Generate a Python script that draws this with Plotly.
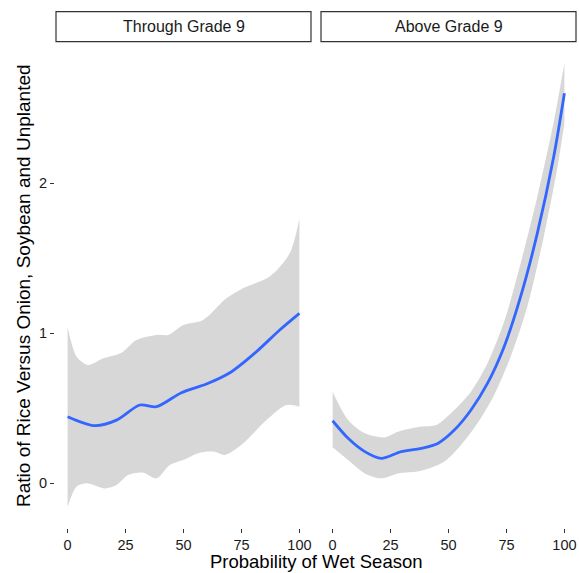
import plotly.graph_objects as go

# Facet labels
panels = ["Through Grade 9", "Above Grade 9"]

# Through Grade 9: fitted curve and confidence band
tg_fit_x = [0, 11.8, 21.1, 31.2, 38.4, 49.1, 59.9, 70, 81.5, 91.5, 100]
tg_fit_y = [0.442, 0.382, 0.419, 0.520, 0.509, 0.602, 0.660, 0.735, 0.876, 1.02, 1.131]
tg_hi_x = [0, 3.9, 8.9, 15.4, 23.3, 29.7, 38.4, 43.4, 49.9, 58.5, 68.5, 75.7, 87.2, 95.8, 100]
tg_hi_y = [1.042, 0.842, 0.787, 0.831, 0.869, 0.953, 0.987, 0.987, 1.053, 1.087, 1.231, 1.298, 1.376, 1.531, 1.764]
tg_lo_x = [0, 3.9, 8.2, 16.1, 21.1, 26.1, 32.6, 38.4, 44.1, 49.9, 57, 63.5, 67.8, 75.7, 85.8, 94.4, 100]
tg_lo_y = [-0.158, -0.024, -0.002, -0.036, -0.013, 0.053, 0.069, 0.031, 0.120, 0.153, 0.202, 0.209, 0.187, 0.264, 0.42, 0.52, 0.509]

# Above Grade 9: fitted curve and confidence band
ag_fit_x = [0, 6.7, 13.9, 21, 29.6, 38.2, 45.4, 52.5, 59.7, 66.8, 74, 81.1, 88.3, 95.4, 100]
ag_fit_y = [0.415, 0.298, 0.209, 0.164, 0.209, 0.231, 0.264, 0.353, 0.487, 0.664, 0.909, 1.242, 1.664, 2.176, 2.598]
ag_hi_x = [0, 6.7, 13.9, 22.4, 28.2, 38.2, 44.7, 52.5, 59.7, 66.8, 74, 81.1, 88.3, 95.4, 100]
ag_hi_y = [0.609, 0.420, 0.331, 0.304, 0.342, 0.376, 0.387, 0.487, 0.609, 0.798, 1.076, 1.464, 1.909, 2.409, 2.798]
ag_lo_x = [0, 6.7, 13.9, 21, 28.2, 38.2, 48.1, 55.4, 62.5, 69.7, 76.8, 84, 91.1, 96.8, 100]
ag_lo_y = [0.238, 0.153, 0.064, 0.031, 0.064, 0.082, 0.142, 0.253, 0.398, 0.587, 0.842, 1.176, 1.642, 2.087, 2.398]

x_ticks = [0, 25, 50, 75, 100]
y_ticks = [0, 1, 2]

W, H = 579, 573
FONT = "Liberation Sans, Arial, Helvetica, sans-serif"
BAND = "#D7D7D7"
LINE = "#3366FF"
TEXT = "#1a1a1a"

# panel geometry in pixels
left_dom = [56 / W, 311 / W]
right_dom = [321 / W, 576 / W]
y_dom = [(H - 528) / H, (H - 42) / H]
y_range = [-(528 - 483) / 150, (483 - 42) / 150]

fig = go.Figure()

series = [
    ("x", "y", tg_fit_x, tg_fit_y, tg_hi_x, tg_hi_y, tg_lo_x, tg_lo_y),
    ("x2", "y2", ag_fit_x, ag_fit_y, ag_hi_x, ag_hi_y, ag_lo_x, ag_lo_y),
]
for xa, ya, fx, fy, hx, hy, lx, ly in series:
    fig.add_trace(go.Scatter(x=lx, y=ly, xaxis=xa, yaxis=ya, mode="lines",
                             line=dict(width=0, color=BAND, shape="spline", smoothing=0.8),
                             showlegend=False, hoverinfo="skip"))
    fig.add_trace(go.Scatter(x=hx, y=hy, xaxis=xa, yaxis=ya, mode="lines",
                             fill="tonexty", fillcolor=BAND,
                             line=dict(width=0, color=BAND, shape="spline", smoothing=0.8),
                             showlegend=False, hoverinfo="skip"))
    fig.add_trace(go.Scatter(x=fx, y=fy, xaxis=xa, yaxis=ya, mode="lines",
                             line=dict(width=2.8, color=LINE, shape="spline", smoothing=0.8),
                             showlegend=False))

xcommon = dict(range=[-5, 105], tickvals=x_ticks, ticktext=[str(v) for v in x_ticks],
               ticks="outside", ticklen=4, tickwidth=1, tickcolor="#333333",
               showgrid=False, zeroline=False, showline=False,
               tickfont=dict(family=FONT, size=14.5, color=TEXT), automargin=False)
fig.update_layout(
    xaxis=dict(domain=left_dom, anchor="y", **xcommon),
    xaxis2=dict(domain=right_dom, anchor="y2", **xcommon),
    yaxis=dict(domain=y_dom, range=y_range, anchor="free", position=54 / W,
               tickvals=y_ticks, ticktext=[str(v) for v in y_ticks],
               ticks="outside", ticklen=4, tickwidth=1, tickcolor="#333333",
               showgrid=False, zeroline=False, showline=False,
               tickfont=dict(family=FONT, size=14.5, color=TEXT), automargin=False),
    yaxis2=dict(domain=y_dom, range=y_range, anchor="x2", matches="y",
                showticklabels=False, ticks="", showgrid=False, zeroline=False,
                showline=False),
    width=W, height=H,
    margin=dict(l=0, r=0, t=0, b=0),
    plot_bgcolor="white", paper_bgcolor="white",
    font=dict(family=FONT, color=TEXT),
)

# facet strips
shapes = []
annotations = []
for dom, label in zip([left_dom, right_dom], panels):
    shapes.append(dict(type="rect", xref="paper", yref="paper",
                       x0=dom[0], x1=dom[1], y0=(H - 41.7) / H, y1=(H - 11.7) / H,
                       line=dict(color="#333333", width=1.2), fillcolor="white"))
    annotations.append(dict(text=label, xref="paper", yref="paper",
                            x=(dom[0] + dom[1]) / 2, y=(H - 26.7) / H,
                            showarrow=False, xanchor="center", yanchor="middle",
                            font=dict(family=FONT, size=16, color=TEXT)))

# axis titles
annotations.append(dict(text="Probability of Wet Season", xref="paper", yref="paper",
                        x=316 / W, y=0, showarrow=False, borderpad=0,
                        xanchor="center", yanchor="bottom",
                        font=dict(family=FONT, size=18.5, color="black")))
annotations.append(dict(text="Ratio of Rice Versus Onion, Soybean and Unplanted",
                        xref="paper", yref="paper", x=23 / W, y=(H - 286) / H,
                        showarrow=False, textangle=-90, xanchor="center", yanchor="middle",
                        font=dict(family=FONT, size=19, color="black")))

fig.update_layout(shapes=shapes, annotations=annotations)
fig.write_html("out.html")
